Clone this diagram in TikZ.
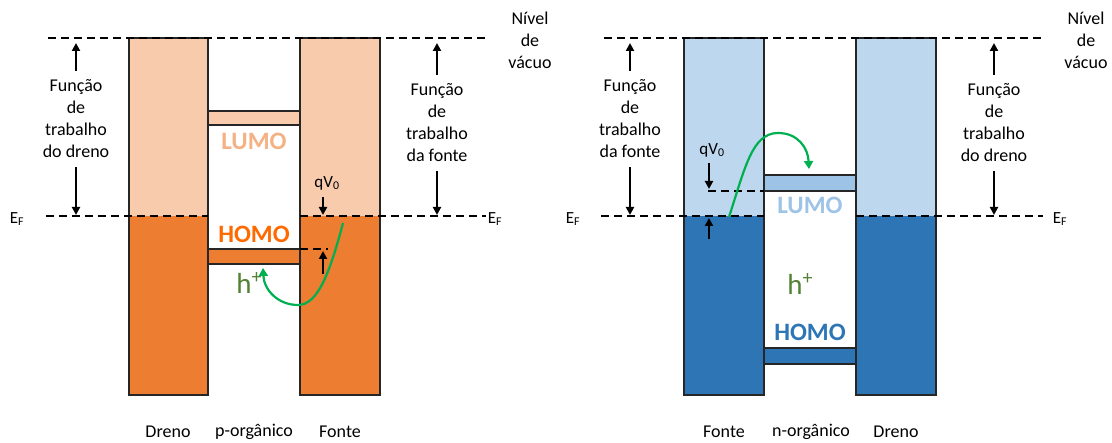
\documentclass[tikz,border=0pt]{standalone}
\usepackage{fontspec}
\setmainfont{Carlito}
\usetikzlibrary{positioning, arrows.meta}

\definecolor{lorange}{HTML}{F8CBAD}
\definecolor{dorange}{HTML}{ED7D31}
\definecolor{lumoorange}{HTML}{F4B183}
\definecolor{homoorange}{HTML}{FF6A00}
\definecolor{lblue}{HTML}{BDD7EE}
\definecolor{mblue}{HTML}{9DC3E6}
\definecolor{dblue}{HTML}{2E75B6}
\definecolor{hgreen}{HTML}{548235}
\definecolor{agreen}{HTML}{00B050}

\newcommand{\hplus}{h\raisebox{0.35em}{\fontsize{20}{20}\selectfont+}}

\tikzset{
  bar/.style={draw=black!85, line width=1.2pt},
  level/.style={line width=2.8pt, dash pattern=on 8pt off 5pt},
  wf/.style={font=\fontsize{18}{22}\selectfont, align=center, inner xsep=2pt, inner ysep=9pt},
  lbl/.style={font=\fontsize{18}{22}\selectfont, inner sep=1pt},
  small/.style={font=\fontsize{17}{20}\selectfont, inner sep=1pt},
  orb/.style={font=\fontsize{25}{28}\selectfont\bfseries, inner sep=0pt},
  hole/.style={font=\fontsize{29}{30}\selectfont, text=hgreen, inner sep=0pt},
  arr/.style={line width=2pt, -{Triangle[width=8pt,length=8pt]}},
  hop/.style={agreen, line width=2.2pt, -{Triangle[width=9pt,length=8pt]}},
}

\begin{document}
\begin{tikzpicture}[x=1pt, y=-1pt]
  \useasboundingbox (0,0) rectangle (1112,443);

  % p-organico
  \fill[lorange] (129,38) rectangle (208,216);
  \fill[dorange] (129,216) rectangle (208,395);
  \fill[lorange] (300,38) rectangle (380,216);
  \fill[dorange] (300,216) rectangle (380,395);
  \draw[bar] (129,38) rectangle (208,395);
  \draw[bar] (300,38) rectangle (380,395);
  \filldraw[bar, fill=lorange] (208,111) rectangle (300,125);
  \filldraw[bar, fill=dorange] (208,249) rectangle (300,264);

  \draw[level] (48,38) -- (486,38);
  \draw[level] (46,216) -- (208,216);
  \draw[level] (300,216) -- (486,216);
  \draw[level, line width=2.4pt] (300,249) -- (328,249);

  \node[lbl] (vac1) at (530,18) {Nível};
  \node[lbl] (vac2) at (530,40) {de};
  \node[lbl] (vac3) at (530,62) {vácuo};
  \node[small] (EF1) at (17,219) {E\textsubscript{F}};
  \node[small] (EF2) at (495,219) {E\textsubscript{F}};

  \node[wf] (wfD) at (76,119) {Função\\de\\trabalho\\do dreno};
  \node[wf] (wfF) at (437,123) {Função\\de\\trabalho\\da fonte};
  \coordinate (vD) at (76,43);
  \coordinate (eD) at (76,215);
  \coordinate (vF) at (437,43);
  \coordinate (eF) at (437,215);
  \draw[arr] (wfD.north) -- (vD);
  \draw[arr] (wfD.south) -- (eD);
  \draw[arr] (wfF.north) -- (vF);
  \draw[arr] (wfF.south) -- (eF);

  \node[small] (qv1) at (327,183) {qV\textsubscript{0}};
  \coordinate (qa) at (323,197);
  \coordinate (qb) at (323,215);
  \coordinate (qc) at (323,274);
  \coordinate (qd) at (323,251);
  \draw[arr] (qa) -- (qb);
  \draw[arr] (qc) -- (qd);

  \node[orb, text=lumoorange] (lumo1) at (254,141) {LUMO};
  \node[orb, text=homoorange] (homo1) at (254,234) {HOMO};
  \node[hole] (h1) at (249,283) {\hplus};
  \coordinate (s1) at (343,223);
  \coordinate (t1) at (263,268);
  \draw[hop] (s1) .. controls (330,272) and (318,305) .. (298,305)
    .. controls (278,305) and (264,290) .. (t1);

  \node[lbl] (dr1) at (168,432) {Dreno};
  \node[lbl] (po) at (254,432) {p-orgânico};
  \node[lbl] (fo1) at (340,432) {Fonte};

  % n-organico
  \fill[lblue] (684,38) rectangle (764,216);
  \fill[dblue] (684,216) rectangle (764,395);
  \fill[lblue] (856,38) rectangle (936,216);
  \fill[dblue] (856,216) rectangle (936,395);
  \draw[bar] (684,38) rectangle (764,395);
  \draw[bar] (856,38) rectangle (936,395);
  \filldraw[bar, fill=mblue] (764,175) rectangle (856,191);
  \filldraw[bar, fill=dblue] (764,348) rectangle (856,364);

  \draw[level] (604,38) -- (1041,38);
  \draw[level] (601,216) -- (764,216);
  \draw[level] (856,216) -- (1043,216);
  \draw[level, line width=2.4pt] (708,191) -- (764,191);

  \node[lbl] (vac4) at (1086,18) {Nível};
  \node[lbl] (vac5) at (1086,40) {de};
  \node[lbl] (vac6) at (1086,62) {vácuo};
  \node[small] (EF3) at (573,219) {E\textsubscript{F}};
  \node[small] (EF4) at (1060,219) {E\textsubscript{F}};

  \node[wf] (wfF2) at (630,119) {Função\\de\\trabalho\\da fonte};
  \node[wf] (wfD2) at (994,123) {Função\\de\\trabalho\\do dreno};
  \coordinate (vF2) at (630,43);
  \coordinate (eF2) at (630,215);
  \coordinate (vD2) at (994,43);
  \coordinate (eD2) at (994,215);
  \draw[arr] (wfF2.north) -- (vF2);
  \draw[arr] (wfF2.south) -- (eF2);
  \draw[arr] (wfD2.north) -- (vD2);
  \draw[arr] (wfD2.south) -- (eD2);

  \node[small] (qv2) at (712,150) {qV\textsubscript{0}};
  \coordinate (qe) at (709,163);
  \coordinate (qf) at (709,189);
  \coordinate (qg) at (709,239);
  \coordinate (qh) at (709,218);
  \draw[arr] (qe) -- (qf);
  \draw[arr] (qg) -- (qh);

  \node[orb, text=mblue] (lumo2) at (810,205) {LUMO};
  \node[orb, text=dblue] (homo2) at (810,332) {HOMO};
  \node[hole] (h2) at (800,284) {\hplus};
  \coordinate (s2) at (729,217);
  \coordinate (t2) at (809,169);
  \draw[hop] (s2) .. controls (745,168) and (752,133) .. (778,133)
    .. controls (798,133) and (808,148) .. (t2);

  \node[lbl] (fo2) at (724,432) {Fonte};
  \node[lbl] (no) at (811,432) {n-orgânico};
  \node[lbl] (dr2) at (896,432) {Dreno};
\end{tikzpicture}
\end{document}
